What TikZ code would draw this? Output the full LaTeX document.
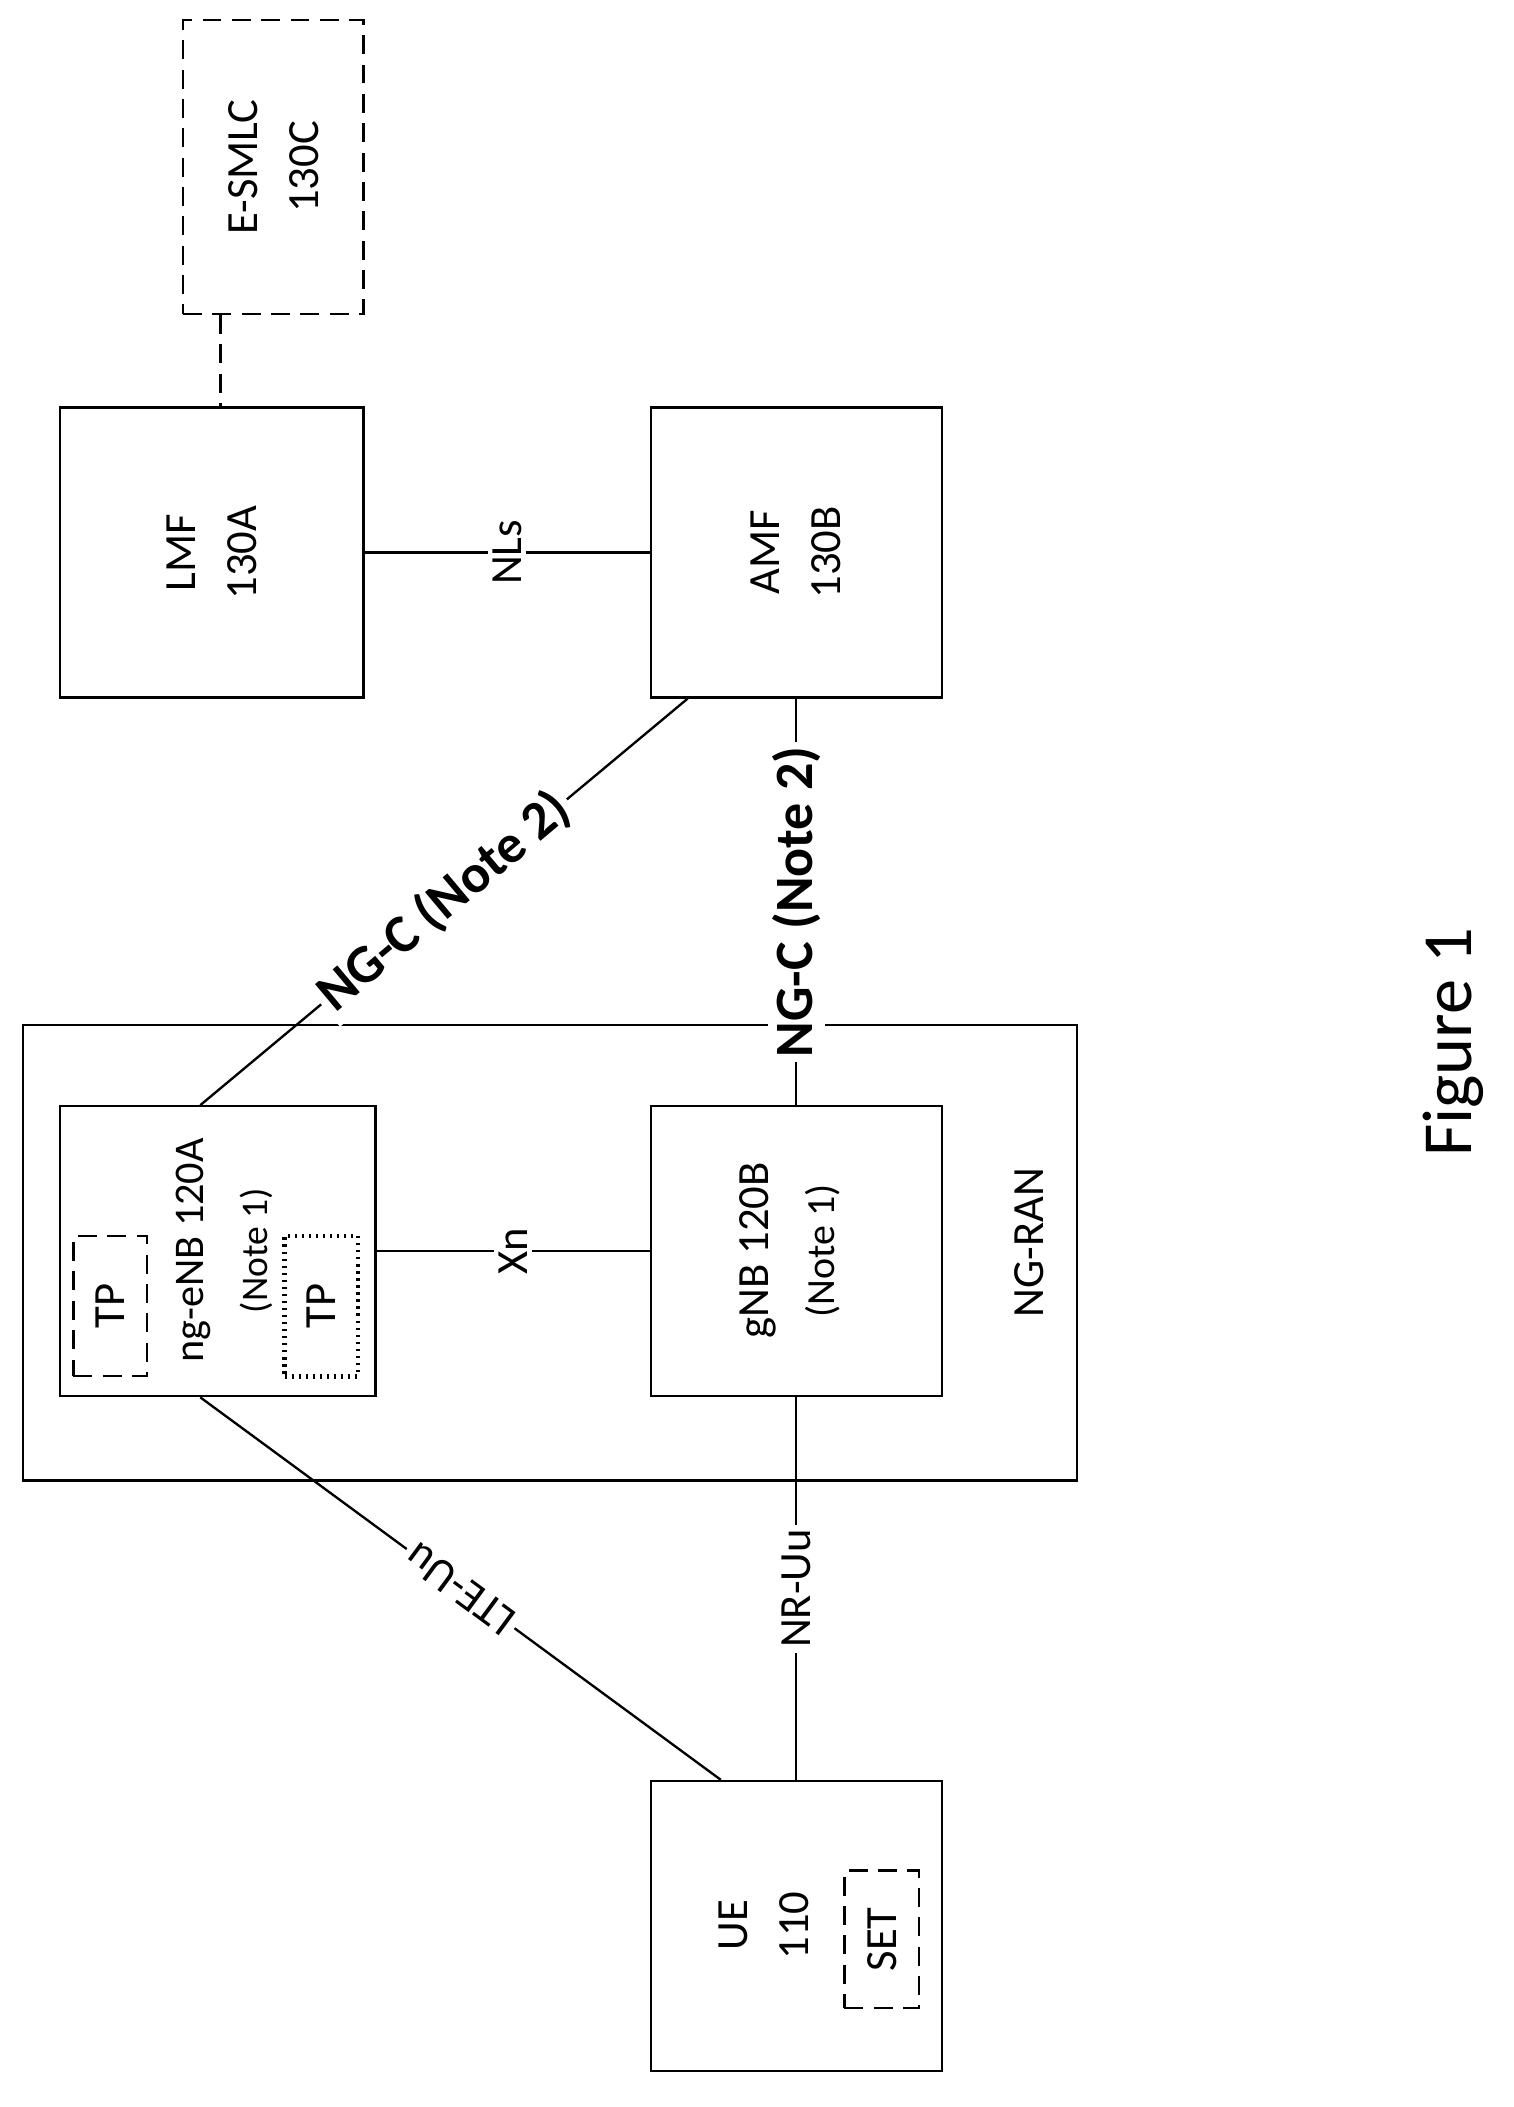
\documentclass[tikz,border=0pt]{standalone}
\usepackage{fontspec}
\setmainfont{Carlito}
\usetikzlibrary{calc}
\begin{document}
\begin{tikzpicture}[x=0.02cm,y=-0.02cm,
    box/.style={draw, line width=1pt, inner sep=0pt},
    dsh/.style={dash pattern=on 8pt off 4.5pt},
    txt/.style={rotate=90, align=center, font=\fontsize{19}{26}\selectfont},
    lbl/.style={fill=white, inner sep=2pt, font=\fontsize{19}{22}\selectfont},
    big/.style={fill=white, inner sep=2pt, font=\fontsize{23}{26}\selectfont\bfseries},
    link/.style={line width=1pt},
]
  \useasboundingbox (0,0) rectangle (1133,1577);

  % boxes
  \node[box,dsh,minimum width=2.7cm,minimum height=4.4cm] (esmlc) at (204.5,125) {};
  \node[box,minimum width=4.54cm,minimum height=4.34cm] (lmf) at (158.5,413.5) {};
  \node[box,minimum width=4.36cm,minimum height=4.34cm] (amf) at (596,413.5) {};
  \node[box,minimum width=15.78cm,minimum height=6.82cm] (ran) at (411.5,937.5) {};
  \node[box,minimum width=4.72cm,minimum height=4.34cm] (enb) at (163,936.5) {};
  \node[box,minimum width=4.36cm,minimum height=4.34cm] (gnb) at (596,936.5) {};
  \node[box,minimum width=4.36cm,minimum height=4.34cm] (ue) at (596,1441.5) {};
  \node[box,dsh,minimum width=1.1cm,minimum height=2.1cm] (tpa) at (82.5,977.5) {};
  \node[box,dotted,line width=2pt,minimum width=1.1cm,minimum height=2.1cm] (tpb) at (240.5,977.5) {};
  \node[box,dsh,minimum width=1.12cm,minimum height=2.06cm] (set) at (660,1451.5) {};

  % texts
  \node[txt] (esmlct) at (esmlc) {E-SMLC\\130C};
  \node[txt] (lmft) at (lmf) {LMF\\130A};
  \node[txt] (amft) at (amf) {AMF\\130B};
  \node[txt,font=\fontsize{18}{25}\selectfont] (enbt) at (168,936) {ng-eNB 120A\\[2pt]{\fontsize{16}{20}\selectfont(Note 1)}};
  \node[txt] (gnbt) at (591,936) {gNB 120B\\[2pt]{\fontsize{17}{20}\selectfont(Note 1)}};
  \node[txt] (uet) at (572,1441) {UE\\110};
  \node[txt] at (tpa) {TP};
  \node[txt] at (tpb) {TP};
  \node[txt] at (set) {SET};
  \node[txt] (ranl) at (770,930) {NG-RAN};
  \node[rotate=90, font=\fontsize{30}{36}\selectfont] (fig) at (1088,780) {Figure 1};

  % connectors
  \draw[link,dsh] (esmlc.south -| 165,0) -- (lmf.north -| 165,0);
  \draw[link] (lmf) -- node[lbl,rotate=90] {NLs} (amf);
  \draw[link] (enb) -- node[lbl,rotate=90] {Xn} (gnb);
  \draw[link] (gnb.north) -- node[big,rotate=90,pos=0.5] {NG-C (Note 2)} (amf.south);
  \draw[link] (gnb.south) -- node[lbl,rotate=90] {NR-Uu} (ue.north);
  \coordinate (enbtop) at ($(enb.north west)!0.445!(enb.north east)$);
  \coordinate (enbbot) at ($(enb.south west)!0.445!(enb.south east)$);
  \coordinate (amfbot) at ($(amf.south west)!0.13!(amf.south east)$);
  \coordinate (uetop) at ($(ue.north west)!0.243!(ue.north east)$);
  \draw[link] (enbtop) -- node[big,rotate=40,pos=0.5] {NG-C (Note 2)} (amfbot);
  \draw[link] (enbbot) -- node[lbl,rotate=143.6,pos=0.5] {LTE-Uu} (uetop);
\end{tikzpicture}
\end{document}
